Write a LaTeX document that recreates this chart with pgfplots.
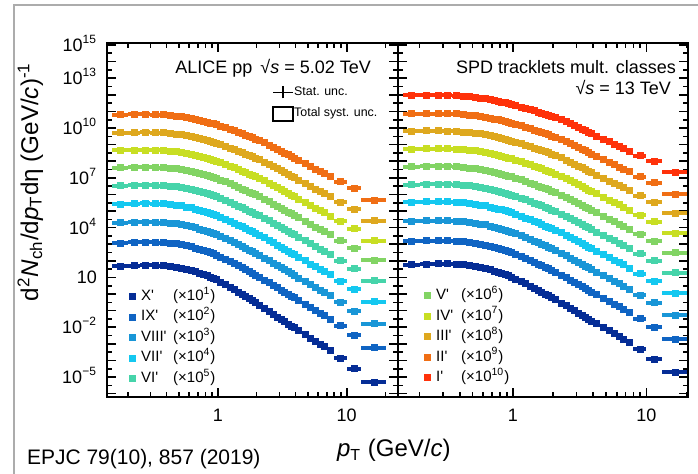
\documentclass[border=0pt]{standalone}
\usepackage{fontspec}
\setmainfont{Liberation Sans}
\usepackage{pgfplots}
\usepackage{pgfplotstable}
\pgfplotsset{compat=1.18}

% class colours
\definecolor{cI}{RGB}{255,50,10}
\definecolor{cII}{RGB}{240,110,20}
\definecolor{cIII}{RGB}{222,168,30}
\definecolor{cIV}{RGB}{200,222,35}
\definecolor{cV}{RGB}{130,212,100}
\definecolor{cVI}{RGB}{70,212,170}
\definecolor{cVII}{RGB}{20,200,240}
\definecolor{cVIII}{RGB}{25,150,215}
\definecolor{cIX}{RGB}{15,100,195}
\definecolor{cX}{RGB}{5,45,150}

% pp, sqrt(s) = 5.02 TeV, scaled spectra (classes II'..X')
\pgfplotstableread{
pt    ex    II      III     IV      V       VI      VII     VIII    IX      X
0.175 0.025 6.31e10 5.13e9  4.47e8  4.07e7  3.31e6  2.63e5  1.95e4  1.20e3  46.8
0.225 0.025 6.55e10 5.35e9  4.68e8  4.29e7  3.50e6  2.79e5  2.08e4  1.29e3  51.3
0.275 0.025 6.61e10 5.42e9  4.75e8  4.37e7  3.57e6  2.86e5  2.14e4  1.34e3  53.7
0.325 0.025 6.50e10 5.33e9  4.68e8  4.31e7  3.53e6  2.83e5  2.12e4  1.33e3  53.7
0.375 0.025 6.21e10 5.09e9  4.47e8  4.11e7  3.37e6  2.70e5  2.03e4  1.27e3  51.3
0.425 0.025 5.75e10 4.72e9  4.14e8  3.80e7  3.11e6  2.49e5  1.86e4  1.16e3  46.8
0.475 0.025 5.32e10 4.35e9  3.80e8  3.48e7  2.84e6  2.27e5  1.69e4  1.05e3  41.7
0.525 0.025 4.88e10 3.98e9  3.47e8  3.17e7  2.58e6  2.06e5  1.53e4  9.46e2  37.2
0.575 0.025 4.28e10 3.48e9  3.02e8  2.75e7  2.23e6  1.77e5  1.30e4  8.02e2  30.9
0.625 0.025 3.85e10 3.10e9  2.69e8  2.44e7  1.97e6  1.55e5  1.14e4  6.96e2  26.3
0.675 0.025 3.38e10 2.71e9  2.34e8  2.11e7  1.70e6  1.33e5  9.70e3  5.90e2  21.9
0.725 0.025 2.98e10 2.38e9  2.04e8  1.84e7  1.46e6  1.14e5  8.34e3  5.01e2  18.2
0.775 0.025 2.61e10 2.07e9  1.77e8  1.59e7  1.26e6  9.82e4  7.13e3  4.24e2  15.1
0.825 0.025 2.29e10 1.82e9  1.54e8  1.37e7  1.10e6  8.47e4  6.08e3  3.59e2  12.6
0.875 0.025 2.01e10 1.59e9  1.34e8  1.19e7  9.48e5  7.28e4  5.19e3  3.05e2  10.5
0.925 0.025 1.78e10 1.40e9  1.18e8  1.05e7  8.24e5  6.32e4  4.51e3  2.63e2  8.91
0.975 0.025 1.57e10 1.22e9  1.03e8  9.06e6  7.12e5  5.43e4  3.85e3  2.23e2  7.42
1.05  0.05  1.28e10 9.93e8  8.28e7  7.23e6  5.63e5  4.24e4  2.97e3  1.69e2  5.37
1.15  0.05  1.05e10 8.07e8  6.67e7  5.77e6  4.44e5  3.32e4  2.29e3  1.28e2  3.89
1.25  0.05  8.23e9  6.19e8  5.06e7  4.31e6  3.29e5  2.42e4  1.64e3  89.9    2.57
1.35  0.05  6.76e9  5.03e8  4.08e7  3.44e6  2.60e5  1.89e4  1.26e3  68.1    1.86
1.45  0.05  5.44e9  4.00e8  3.21e7  2.69e6  2.00e5  1.44e4  9.54e2  50.4    1.32
1.55  0.05  4.47e9  3.26e8  2.59e7  2.14e6  1.58e5  1.12e4  7.36e2  38.2    0.953
1.65  0.05  3.77e9  2.72e8  2.13e7  1.75e6  1.28e5  9.00e3  5.82e2  29.6    0.709
1.75  0.05  3.10e9  2.21e8  1.71e7  1.39e6  1.01e5  7.04e3  4.49e2  22.5    0.513
1.85  0.05  2.65e9  1.87e8  1.45e7  1.17e6  8.46e4  5.84e3  3.69e2  18.3    0.408
1.95  0.05  2.18e9  1.52e8  1.17e7  9.38e5  6.68e4  4.56e3  2.84e2  13.8    0.295
2.1   0.1   1.75e9  1.21e8  9.18e6  7.31e5  5.19e4  3.51e3  2.17e2  10.4    0.214
2.3   0.1   1.27e9  8.71e7  6.55e6  5.15e5  3.61e4  2.42e3  1.47e2  6.92    0.135
2.5   0.1   9.40e8  6.37e7  4.74e6  3.70e5  2.57e4  1.70e3  1.03e2  4.74    0.0891
2.7   0.1   6.95e8  4.68e7  3.46e6  2.68e5  1.85e4  1.22e3  72.4    3.31    0.0603
2.9   0.1   5.27e8  3.52e7  2.58e6  1.99e5  1.36e4  8.87e2  52.5    2.37    0.0417
3.1   0.1   4.01e8  2.65e7  1.94e6  1.49e5  1.01e4  6.56e2  38.5    1.72    0.0295
3.3   0.1   3.13e8  2.06e7  1.50e6  1.14e5  7.71e3  4.97e2  28.9    1.28    0.0214
3.5   0.1   2.45e8  1.60e7  1.16e6  8.79e4  5.94e3  3.80e2  22.0    0.966   0.0158
3.7   0.1   1.96e8  1.28e7  9.20e5  6.95e4  4.68e3  2.98e2  17.1    0.748   0.0120
3.9   0.1   1.58e8  1.03e7  7.36e5  5.55e4  3.72e3  2.36e2  13.6    0.587   0.00933
4.25  0.25  1.12e8  7.24e6  5.18e5  3.87e4  2.58e3  1.63e2  9.29    0.398   0.00617
4.75  0.25  7.23e7  4.63e6  3.29e5  2.44e4  1.62e3  1.01e2  5.71    0.242   0.00363
5.25  0.25  4.80e7  3.05e6  2.15e5  1.59e4  1.05e3  65.2    3.66    0.153   0.00224
5.75  0.25  3.33e7  2.10e6  1.48e5  1.09e4  7.11e2  44.0    2.44    0.102   0.00145
6.25  0.25  2.42e7  1.52e6  1.06e5  7.76e3  5.06e2  31.0    1.71    0.0705  9.77e-4
6.75  0.25  1.80e7  1.12e6  7.80e4  5.68e3  3.68e2  22.4    1.23    0.0500  6.76e-4
7.5   0.5   1.19e7  7.36e5  5.07e4  3.66e3  2.36e2  14.3    0.774   0.0311  4.07e-4
9.0   1.0   5.82e6  3.50e5  2.35e4  1.65e3  1.04e2  6.08    0.318   0.0122  1.41e-4
11.5  1.5   2.29e6  1.31e5  8.41e3  5.68e2  34.1    1.90    0.0942  0.00333 3.16e-5
16.5  3.5   4.60e5  2.57e4  1.63e3  1.08e2  6.35    0.347   0.0168  5.75e-4 5.01e-6
}\lowE

% pp, sqrt(s) = 13 TeV, scaled spectra (classes I'..X')
\pgfplotstableread{
pt    ex    I       II      III     IV      V       VI      VII     VIII    IX      X
0.175 0.025 9.3e11  7.2e10  6.5e9   5.50e8  4.68e7  3.89e6  3.39e5  2.45e4  1.51e3  58.9
0.225 0.025 9.5e11  7.4e10  6.7e9   5.69e8  4.86e7  4.06e6  3.56e5  2.59e4  1.61e3  63.5
0.275 0.025 9.5e11  7.4e10  6.7e9   5.74e8  4.92e7  4.11e6  3.61e5  2.64e4  1.65e3  65.9
0.325 0.025 9.3e11  7.4e10  6.6e9   5.64e8  4.83e7  4.05e6  3.56e5  2.61e4  1.63e3  65.6
0.375 0.025 8.9e11  7.1e10  6.3e9   5.38e8  4.61e7  3.86e6  3.40e5  2.49e4  1.56e3  62.7
0.425 0.025 8.3e11  6.5e10  5.8e9   5.00e8  4.28e7  3.58e6  3.14e5  2.30e4  1.44e3  57.4
0.475 0.025 7.8e11  6.0e10  5.4e9   4.62e8  3.95e7  3.30e6  2.88e5  2.10e4  1.31e3  51.6
0.525 0.025 7.20e11 5.52e10 5.00e9  4.24e8  3.62e7  3.02e6  2.63e5  1.91e4  1.19e3  46.5
0.575 0.025 6.42e11 4.90e10 4.42e9  3.73e8  3.17e7  2.64e6  2.29e5  1.66e4  1.02e3  39.2
0.625 0.025 5.82e11 4.46e10 3.94e9  3.37e8  2.85e7  2.35e6  2.04e5  1.46e4  8.93e2  33.8
0.675 0.025 5.19e11 3.95e10 3.48e9  2.96e8  2.50e7  2.06e6  1.77e5  1.27e4  7.67e2  28.6
0.725 0.025 4.66e11 3.50e10 3.09e9  2.60e8  2.19e7  1.80e6  1.54e5  1.10e4  6.58e2  24.2
0.775 0.025 4.15e11 3.11e10 2.73e9  2.29e8  1.92e7  1.57e6  1.34e5  9.49e3  5.65e2  20.4
0.825 0.025 3.71e11 2.76e10 2.45e9  2.03e8  1.69e7  1.38e6  1.17e5  8.21e3  4.86e2  17.2
0.875 0.025 3.31e11 2.45e10 2.16e9  1.78e8  1.48e7  1.21e6  1.02e5  7.11e3  4.17e2  14.5
0.925 0.025 2.97e11 2.18e10 1.89e9  1.58e8  1.30e7  1.06e6  8.90e4  6.20e3  3.63e2  12.5
0.975 0.025 2.64e11 1.93e10 1.67e9  1.39e8  1.14e7  9.26e5  7.74e4  5.37e3  3.11e2  10.6
1.05  0.05  2.17e11 1.63e10 1.39e9  1.14e8  9.37e6  7.53e5  6.22e4  4.25e3  2.42e2  7.93
1.15  0.05  1.85e11 1.37e10 1.16e9  9.45e7  7.69e6  6.12e5  5.00e4  3.38e3  1.89e2  5.95
1.25  0.05  1.52e11 1.09e10 9.20e8  7.40e7  5.97e6  4.70e5  3.79e4  2.51e3  1.38e2  4.11
1.35  0.05  1.29e11 9.17e9  7.67e8  6.12e7  4.90e6  3.82e5  3.05e4  2.00e3  1.08e2  3.08
1.45  0.05  1.08e11 7.53e9  6.24e8  4.95e7  3.92e6  3.04e5  2.40e4  1.55e3  81.8    2.26
1.55  0.05  9.23e10 6.32e9  5.21e8  4.09e7  3.22e6  2.47e5  1.93e4  1.23e3  63.9    1.70
1.65  0.05  8.02e10 5.46e9  4.38e8  3.47e7  2.69e6  2.06e5  1.58e4  1.00e3  50.9    1.30
1.75  0.05  6.83e10 4.58e9  3.65e8  2.86e7  2.21e6  1.68e5  1.27e4  7.94e2  39.8    0.979
1.85  0.05  5.96e10 3.93e9  3.18e8  2.45e7  1.89e6  1.42e5  1.08e4  6.65e2  32.9    0.795
1.95  0.05  5.07e10 3.30e9  2.65e8  2.03e7  1.55e6  1.15e5  8.66e3  5.29e2  25.7    0.597
2.1   0.1   4.17e10 2.70e9  2.14e8  1.63e7  1.24e6  9.18e4  6.81e3  4.11e2  19.7    0.445
2.3   0.1   3.16e10 2.01e9  1.59e8  1.19e7  8.99e5  6.61e4  4.84e3  2.88e2  13.6    0.292
2.5   0.1   2.40e10 1.51e9  1.18e8  8.85e6  6.61e5  4.83e4  3.50e3  2.06e2  9.55    0.199
2.7   0.1   1.82e10 1.14e9  8.85e7  6.58e6  4.89e5  3.55e4  2.55e3  1.49e2  6.81    0.138
2.9   0.1   1.41e10 8.75e8  6.76e7  5.00e6  3.69e5  2.67e4  1.90e3  1.10e2  4.97    0.0979
3.1   0.1   1.10e10 6.73e8  5.19e7  3.81e6  2.81e5  2.01e4  1.43e3  82.0    3.66    0.0706
3.3   0.1   8.71e9  5.31e8  4.07e7  2.98e6  2.18e5  1.56e4  1.10e3  62.7    2.77    0.0522
3.5   0.1   6.92e9  4.20e8  3.21e7  2.34e6  1.71e5  1.22e4  8.53e2  48.3    2.12    0.0394
3.7   0.1   5.62e9  3.39e8  2.58e7  1.87e6  1.36e5  9.68e3  6.76e2  38.1    1.66    0.0303
3.9   0.1   4.57e9  2.75e8  2.08e7  1.51e6  1.10e5  7.78e3  5.41e2  30.3    1.32    0.0238
4.25  0.25  3.31e9  1.98e8  1.49e7  1.08e6  7.78e4  5.50e3  3.79e2  21.1    0.908   0.0160
4.75  0.25  2.19e9  1.29e8  9.73e6  6.98e5  5.01e4  3.52e3  2.41e2  13.3    0.564   0.00968
5.25  0.25  1.48e9  8.67e7  6.49e6  4.63e5  3.31e4  2.31e3  1.58e2  8.63    0.362   0.00608
5.75  0.25  1.05e9  6.10e7  4.54e6  3.23e5  2.30e4  1.60e3  1.08e2  5.87    0.244   0.00401
6.25  0.25  7.76e8  4.49e7  3.33e6  2.36e5  1.67e4  1.15e3  77.6    4.19    0.172   0.00277
6.75  0.25  5.89e8  3.38e7  2.49e6  1.76e5  1.24e4  8.53e2  57.0    3.05    0.124   0.00195
7.5   0.5   4.0e8   2.3e7   1.66e6  1.16e5  8.15e3  5.58e2  37.0    1.96    0.0789  0.00121
9.0   1.0   2.1e8   1.17e7  8.4e5   5.78e4  3.96e3  2.65e2  17.1    0.875   0.0335  4.61e-4
11.5  1.5   9.8e7   5.1e6   3.5e5   2.32e4  1.53e3  99.3    6.07    0.294   0.0104  1.21e-4
16.5  3.5   2.1e7   1.06e6  7.2e4   4.70e3  3.06e2  19.5    1.17    0.0552  0.00189 2.04e-5
}\highE

% marker + bin-width bar for one multiplicity class
\pgfplotsset{
  specmk/.style={
    only marks, mark=square*, mark size=1.5pt, color=#1,
    mark options={solid, fill=#1, draw=#1},
    error bars/x dir=both, error bars/x explicit, error bars/error mark=none,
    error bars/error bar style={line width=2pt, color=#1}},
}
\newcommand{\sqkey}[1]{\fill[#1] (0pt,-1.5pt) rectangle (3pt,1.5pt);}

\begin{document}
\begin{tikzpicture}
\useasboundingbox (0,0) rectangle (349pt,237pt);
\draw[gray!65, line width=0.7pt] (7pt,0pt) -- (7pt,234.5pt) -- (349.5pt,234.5pt);

% left panel: 5.02 TeV
\begin{axis}[at={(53.5pt,38.5pt)}, anchor=south west,
  scale only axis, width=145.5pt, height=177pt,
  xmode=log, ymode=log, xmin=0.138, xmax=25, ymin=6.3e-7, ymax=1.32e15,
  axis line style={line width=1pt},
  tick style={line width=0.8pt, black},
  major tick length=4.5pt, minor tick length=2.5pt,
  tick align=inside,
  xtick={1,10}, xticklabels={1,10},
  minor xtick={0.2,0.3,0.4,0.5,0.6,0.7,0.8,0.9,2,3,4,5,6,7,8,9,20},
  ytick={1e-6,1e-5,1e-4,1e-3,1e-2,1e-1,1,1e1,1e2,1e3,1e4,1e5,1e6,1e7,1e8,1e9,1e10,1e11,1e12,1e13,1e14,1e15},
  minor ytick={3.16e-6,3.16e-5,3.16e-4,3.16e-3,3.16e-2,3.16e-1,3.16,3.16e1,3.16e2,3.16e3,3.16e4,3.16e5,3.16e6,3.16e7,3.16e8,3.16e9,3.16e10,3.16e11,3.16e12,3.16e13,3.16e14},
  yticklabels={,10\textsuperscript{−5},,,10\textsuperscript{−2},,,10,,,10\textsuperscript{4},,,10\textsuperscript{7},,,10\textsuperscript{10},,,10\textsuperscript{13},,10\textsuperscript{15}},
  xticklabel style={font=\fontsize{9}{10}\selectfont, yshift=-2.5pt},
  yticklabel style={font=\fontsize{9}{10}\selectfont, anchor=base east, yshift=-3.2pt, xshift=-1.5pt},
  legend cell align=left,
  legend style={at={(0.0756,0.305)}, anchor=north west, draw=none, fill=none,
    inner sep=0pt, row sep=3.25pt, column sep=2.5pt, font=\fontsize{7.5}{8.5}\selectfont,
    nodes={inner sep=0pt, text height=5.4pt, text depth=1.6pt}},
]
\addplot[specmk=cX, legend image code/.code={\sqkey{cX}}] table[x=pt, y=X, x error=ex] {\lowE};
\addlegendentry{\makebox[16pt][l]{X\textquotesingle}(×10\textsuperscript{1})}
\addplot[specmk=cIX, legend image code/.code={\sqkey{cIX}}] table[x=pt, y=IX, x error=ex] {\lowE};
\addlegendentry{\makebox[16pt][l]{IX\textquotesingle}(×10\textsuperscript{2})}
\addplot[specmk=cVIII, legend image code/.code={\sqkey{cVIII}}] table[x=pt, y=VIII, x error=ex] {\lowE};
\addlegendentry{\makebox[16pt][l]{VIII\textquotesingle}(×10\textsuperscript{3})}
\addplot[specmk=cVII, legend image code/.code={\sqkey{cVII}}] table[x=pt, y=VII, x error=ex] {\lowE};
\addlegendentry{\makebox[16pt][l]{VII\textquotesingle}(×10\textsuperscript{4})}
\addplot[specmk=cVI, legend image code/.code={\sqkey{cVI}}] table[x=pt, y=VI, x error=ex] {\lowE};
\addlegendentry{\makebox[16pt][l]{VI\textquotesingle}(×10\textsuperscript{5})}
\addplot[forget plot, specmk=cV]   table[x=pt, y=V,   x error=ex] {\lowE};
\addplot[forget plot, specmk=cIV]  table[x=pt, y=IV,  x error=ex] {\lowE};
\addplot[forget plot, specmk=cIII] table[x=pt, y=III, x error=ex] {\lowE};
\addplot[forget plot, specmk=cII]  table[x=pt, y=II,  x error=ex] {\lowE};
\end{axis}

% uncertainty key of the left panel
\begin{axis}[at={(53.5pt,38.5pt)}, anchor=south west, scale only axis,
  width=145.5pt, height=177pt, hide axis, xmin=0, xmax=1, ymin=0, ymax=1,
  legend cell align=left,
  legend style={at={(0.567,0.881)}, anchor=north west, draw=none, fill=none,
    inner sep=0pt, row sep=3.2pt, font=\fontsize{6.2}{7}\selectfont,
    nodes={inner sep=0pt, text height=4.5pt, text depth=1.3pt}},
]
\addlegendimage{legend image code/.code={
  \draw[line width=0.9pt] (0pt,0pt) -- (10pt,0pt);
  \draw[line width=0.9pt] (5pt,-3pt) -- (5pt,3pt);}}
\addlegendentry{Stat. unc.}
\addlegendimage{legend image code/.code={
  \draw[line width=0.9pt] (0pt,-3.5pt) rectangle (10pt,3.5pt);}}
\addlegendentry{Total syst. unc.}
\end{axis}

% right panel: 13 TeV
\begin{axis}[at={(199pt,38.5pt)}, anchor=south west,
  scale only axis, width=145pt, height=177pt,
  xmode=log, ymode=log, xmin=0.138, xmax=20.5, ymin=6.3e-7, ymax=1.32e15,
  axis line style={line width=1pt},
  tick style={line width=0.8pt, black},
  major tick length=4.5pt, minor tick length=2.5pt,
  tick align=inside,
  xtick={1,10}, xticklabels={1,10},
  minor xtick={0.2,0.3,0.4,0.5,0.6,0.7,0.8,0.9,2,3,4,5,6,7,8,9,20},
  ytick={1e-6,1e-5,1e-4,1e-3,1e-2,1e-1,1,1e1,1e2,1e3,1e4,1e5,1e6,1e7,1e8,1e9,1e10,1e11,1e12,1e13,1e14,1e15},
  minor ytick={3.16e-6,3.16e-5,3.16e-4,3.16e-3,3.16e-2,3.16e-1,3.16,3.16e1,3.16e2,3.16e3,3.16e4,3.16e5,3.16e6,3.16e7,3.16e8,3.16e9,3.16e10,3.16e11,3.16e12,3.16e13,3.16e14},
  yticklabels={},
  xticklabel style={font=\fontsize{9}{10}\selectfont, yshift=-2.5pt},
  legend cell align=left,
  legend style={at={(0.0897,0.307)}, anchor=north west, draw=none, fill=none,
    inner sep=0pt, row sep=3.25pt, column sep=2.5pt, font=\fontsize{7.5}{8.5}\selectfont,
    nodes={inner sep=0pt, text height=5.4pt, text depth=1.6pt}},
]
\addplot[specmk=cV, legend image code/.code={\sqkey{cV}}] table[x=pt, y=V, x error=ex] {\highE};
\addlegendentry{\makebox[12.5pt][l]{V\textquotesingle}(×10\textsuperscript{6})}
\addplot[specmk=cIV, legend image code/.code={\sqkey{cIV}}] table[x=pt, y=IV, x error=ex] {\highE};
\addlegendentry{\makebox[12.5pt][l]{IV\textquotesingle}(×10\textsuperscript{7})}
\addplot[specmk=cIII, legend image code/.code={\sqkey{cIII}}] table[x=pt, y=III, x error=ex] {\highE};
\addlegendentry{\makebox[12.5pt][l]{III\textquotesingle}(×10\textsuperscript{8})}
\addplot[specmk=cII, legend image code/.code={\sqkey{cII}}] table[x=pt, y=II, x error=ex] {\highE};
\addlegendentry{\makebox[12.5pt][l]{II\textquotesingle}(×10\textsuperscript{9})}
\addplot[specmk=cI, legend image code/.code={\sqkey{cI}}] table[x=pt, y=I, x error=ex] {\highE};
\addlegendentry{\makebox[12.5pt][l]{I\textquotesingle}(×10\textsuperscript{10})}
\addplot[forget plot, specmk=cVI]   table[x=pt, y=VI,   x error=ex] {\highE};
\addplot[forget plot, specmk=cVII]  table[x=pt, y=VII,  x error=ex] {\highE};
\addplot[forget plot, specmk=cVIII] table[x=pt, y=VIII, x error=ex] {\highE};
\addplot[forget plot, specmk=cIX]   table[x=pt, y=IX,   x error=ex] {\highE};
\addplot[forget plot, specmk=cX]    table[x=pt, y=X,    x error=ex] {\highE};
\end{axis}

% titles and axis labels
\node[anchor=base east, font=\fontsize{9}{10}\selectfont] at (189pt,200pt)
  {ALICE pp \,√\textit{s} = 5.02 TeV};
\node[anchor=base east, font=\fontsize{9}{10}\selectfont] at (341.5pt,200pt)
  {SPD tracklets mult. classes};
\node[anchor=base east, font=\fontsize{9}{10}\selectfont] at (339pt,189.5pt)
  {√\textit{s} = 13 TeV};
\node[anchor=base, rotate=90, font=\fontsize{12.1}{14}\selectfont] at (19pt,146pt)
  {d\textsuperscript{2}\textit{N}\textsubscript{ch}/d\textit{p}\textsubscript{T}dη (GeV/\textit{c})\textsuperscript{-1}};
\node[anchor=base west, font=\fontsize{12}{14}\selectfont] at (165pt,8.5pt)
  {\textit{p}\textsubscript{T} (GeV/\textit{c})};
\node[anchor=base west, font=\fontsize{10.5}{12}\selectfont] at (10pt,4.5pt)
  {EPJC 79(10), 857 (2019)};
\end{tikzpicture}
\end{document}
